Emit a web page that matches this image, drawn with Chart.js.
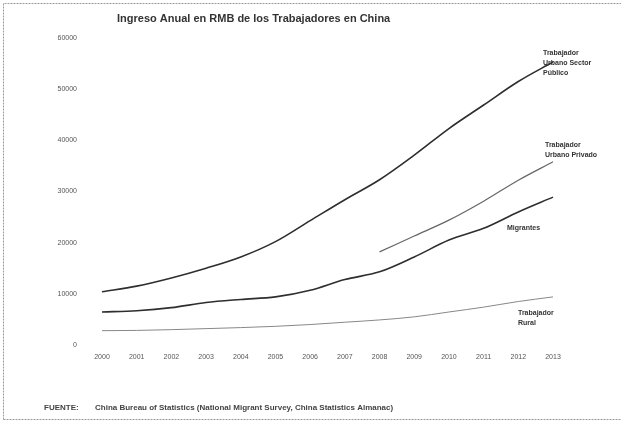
<!DOCTYPE html>
<html><head><meta charset="utf-8">
<script src="https://cdn.jsdelivr.net/npm/chart.js@4"></script>
<style>html,body{margin:0;padding:0;background:#fff}#wrap{position:relative;width:622px;height:423px}</style>
</head><body><div id="wrap"><canvas id="c" width="622" height="423"></canvas></div>
<script>
const years = ['2000','2001','2002','2003','2004','2005','2006','2007','2008','2009','2010','2011','2012','2013'];
const yTicks = [0,10000,20000,30000,40000,50000,60000];
const urbanPublic = [10400,11500,13100,15000,17200,20200,24300,28400,32300,37100,42300,46900,51500,55300];
const urbanPrivate = [null,null,null,null,null,null,null,null,18200,21300,24400,28100,32200,35800];
const migrants = [6450,6700,7300,8300,8900,9400,10700,12800,14300,17200,20500,22800,26000,28900];
const rural = [2800,2850,3000,3200,3400,3650,4000,4450,4900,5500,6450,7400,8500,9400];
const seriesLabels = [
  ['Trabajador','Urbano Sector','Público'],
  ['Trabajador','Urbano Privado'],
  ['Migrantes'],
  ['Trabajador','Rural']
];
const labelAnchors = [57000, 39000, 22900, 6250];
const labelDx = [-10, -8, -46, -35];
const titleText = 'Ingreso Anual en RMB de los Trabajadores en China';
const sourceLabel = 'FUENTE:';
const sourceText = 'China Bureau of Statistics (National Migrant Survey, China Statistics Almanac)';

const decor = {
  id: 'decor',
  afterDraw(chart) {
    const ctx = chart.ctx, xs = chart.scales.x, ys = chart.scales.y;
    ctx.save();
    ctx.strokeStyle = '#9a9a9a'; ctx.lineWidth = 1; ctx.setLineDash([2,1]);
    ctx.beginPath();
    ctx.moveTo(3.5, 419.5); ctx.lineTo(3.5, 3.5); ctx.lineTo(621, 3.5);
    ctx.moveTo(3.5, 419.5); ctx.lineTo(621, 419.5);
    ctx.stroke(); ctx.setLineDash([]);
    ctx.fillStyle = '#333';
    ctx.font = 'bold 11px "Liberation Sans", Arial, sans-serif';
    ctx.textAlign = 'left'; ctx.textBaseline = 'middle';
    ctx.fillText(titleText, 117, 19);
    ctx.font = 'bold 8px "Liberation Sans", Arial, sans-serif';
    ctx.fillStyle = '#444';
    ctx.fillText(sourceLabel, 44, 408);
    ctx.fillText(sourceText, 95, 408);
    ctx.font = 'bold 7px "Liberation Sans", Arial, sans-serif';
    ctx.fillStyle = '#333';
    seriesLabels.forEach((lines, i) => {
      const x = xs.getPixelForValue(years.length - 1) + labelDx[i];
      const y0 = ys.getPixelForValue(labelAnchors[i]);
      lines.forEach((t, j) => ctx.fillText(t, x, y0 + j * 10));
    });
    ctx.restore();
  }
};

new Chart(document.getElementById('c'), {
  type: 'line',
  data: {
    labels: years,
    datasets: [
      { label: seriesLabels[0].join(' '), data: urbanPublic, borderColor: '#2e2e2e', borderWidth: 1.6, pointRadius: 0, cubicInterpolationMode: 'monotone' },
      { label: seriesLabels[1].join(' '), data: urbanPrivate, borderColor: '#666', borderWidth: 1.2, pointRadius: 0, cubicInterpolationMode: 'monotone' },
      { label: seriesLabels[2].join(' '), data: migrants, borderColor: '#2e2e2e', borderWidth: 1.6, pointRadius: 0, cubicInterpolationMode: 'monotone' },
      { label: seriesLabels[3].join(' '), data: rural, borderColor: '#888', borderWidth: 1, pointRadius: 0, cubicInterpolationMode: 'monotone' }
    ]
  },
  options: {
    responsive: false, animation: false, devicePixelRatio: 1,
    layout: { padding: { left: 0, right: 69, top: 38, bottom: 58 } },
    plugins: { legend: { display: false }, title: { display: false }, tooltip: { enabled: false } },
    scales: {
      x: {
        offset: false,
        grid: { display: false, drawTicks: false }, border: { display: false },
        ticks: { font: { size: 7, family: '"Liberation Sans", Arial, sans-serif' }, color: '#555', padding: 8, maxRotation: 0, autoSkip: false },
        afterFit(s) { s.height = 20; }
      },
      y: {
        min: 0, max: 60000,
        grid: { display: false, drawTicks: false }, border: { display: false },
        afterBuildTicks(s) { s.ticks = yTicks.map(v => ({ value: v })); },
        ticks: { font: { size: 7, family: '"Liberation Sans", Arial, sans-serif' }, color: '#555', padding: 25, callback: v => String(v) },
        afterFit(s) { s.width = 102; }
      }
    }
  },
  plugins: [decor]
});
</script></body></html>
